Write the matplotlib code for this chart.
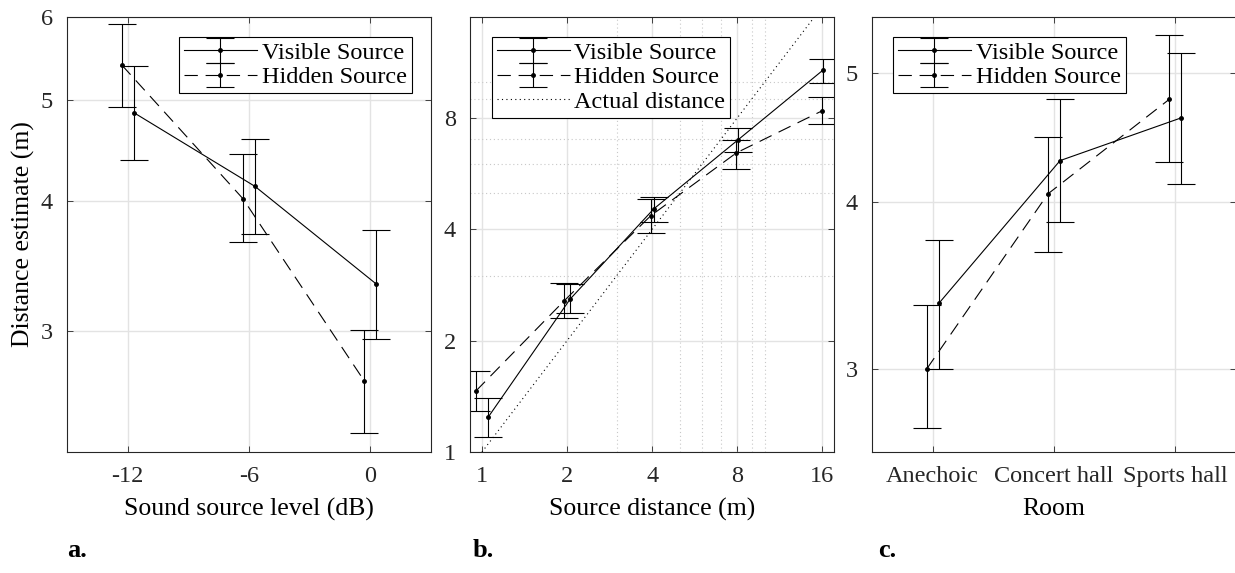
import matplotlib
matplotlib.use("Agg")
import matplotlib.pyplot as plt
from matplotlib.ticker import FixedLocator, NullLocator, FixedFormatter, NullFormatter
import numpy as np

plt.rcParams['font.family'] = ['Liberation Serif', 'DejaVu Serif']
plt.rcParams['font.size'] = 17.5

# panel a - sound source level
level_db = np.array([-12, -6, 0])
vis_a = [4.86, 4.13, 3.33]
vis_a_lo = [4.38, 3.72, 2.95]
vis_a_hi = [5.38, 4.59, 3.75]
hid_a = [5.40, 4.02, 2.69]
hid_a_lo = [4.92, 3.65, 2.40]
hid_a_hi = [5.91, 4.44, 3.01]

# panel b - source distance
dist_m = np.array([1, 2, 4, 8, 16])
vis_b = [1.24, 2.59, 4.54, 6.98, 10.76]
vis_b_lo = [1.10, 2.38, 4.19, 6.48, 9.96]
vis_b_hi = [1.40, 2.85, 4.90, 7.53, 11.56]
hid_b = [1.46, 2.56, 4.35, 6.44, 8.36]
hid_b_lo = [1.29, 2.30, 3.91, 5.83, 7.70]
hid_b_hi = [1.66, 2.86, 4.83, 6.98, 9.12]
actual = [1, 16]

# panel c - room
rooms = ['Anechoic', 'Concert hall', 'Sports hall']
vis_c = [3.36, 4.30, 4.63]
vis_c_lo = [3.00, 3.87, 4.13]
vis_c_hi = [3.75, 4.78, 5.18]
hid_c = [3.00, 4.06, 4.78]
hid_c_lo = [2.71, 3.67, 4.29]
hid_c_hi = [3.35, 4.48, 5.34]

W, H = 1235, 573
fig = plt.figure(figsize=(W / 100, H / 100), dpi=100)

def box(l, r, b=452, t=17):
    return [l / W, (H - b) / H, (r - l) / W, (b - t) / H]

axa = fig.add_axes(box(67, 431))
axb = fig.add_axes(box(470, 834))
axc = fig.add_axes(box(872, 1236))

ekw = dict(color='k', lw=0.8, capsize=10, capthick=0.8, marker='.', ms=5, elinewidth=0.8)

def err(y, lo, hi):
    y = np.array(y); return [y - np.array(lo), np.array(hi) - y]

def draw(ax, xv, xh, v, vlo, vhi, h, hlo, hhi):
    lv = ax.errorbar(xv, v, yerr=err(v, vlo, vhi), ls='-', label='Visible Source', **ekw)
    lh = ax.errorbar(xh, h, yerr=err(h, hlo, hhi), ls=(0, (12, 7)), label='Hidden Source', **ekw)
    return [lv, lh]

# a
ha = draw(axa, level_db + 0.3, level_db - 0.3, vis_a, vis_a_lo, vis_a_hi, hid_a, hid_a_lo, hid_a_hi)
axa.set_yscale('log')
axa.set_ylim(2.3, 6)
axa.set_xlim(-15, 3)
axa.yaxis.set_major_locator(FixedLocator([3, 4, 5, 6]))
axa.yaxis.set_major_formatter(FixedFormatter(['3', '4', '5', '6']))
axa.yaxis.set_minor_locator(NullLocator())
axa.set_xticks(level_db)
axa.set_xticklabels(['-12', '-6', '0'])
axa.set_xlabel('Sound source level (dB)', labelpad=8, fontsize=18.5)
axa.set_ylabel('Distance estimate (m)', labelpad=4, fontsize=18.5)

# b
hb = draw(axb, dist_m + 0.05, dist_m - 0.05, vis_b, vis_b_lo, vis_b_hi, hid_b, hid_b_lo, hid_b_hi)
la, = axb.plot(actual, actual, color='k', lw=0.8, ls=(0, (1, 3)), label='Actual distance')
hb.append(la)
axb.set_xscale('log', base=2)
axb.set_yscale('log', base=2)
axb.set_xlim(0.907, 17.6)
axb.set_ylim(1, 15)
for axis in (axb.xaxis, axb.yaxis):
    axis.set_major_locator(FixedLocator([1, 2, 4, 8, 16]))
    axis.set_major_formatter(FixedFormatter(['1', '2', '4', '8', '16']))
    axis.set_minor_locator(FixedLocator([3, 5, 6, 7, 9, 10]))
    axis.set_minor_formatter(NullFormatter())
axb.grid(True, which='minor', color='#c8c8c8', lw=0.8, ls=(0, (1, 2.5)))
axb.set_xlabel('Source distance (m)', labelpad=8, fontsize=18.5)

# c
xr = np.arange(1, len(rooms) + 1)
hc = draw(axc, xr + 0.05, xr - 0.05, vis_c, vis_c_lo, vis_c_hi, hid_c, hid_c_lo, hid_c_hi)
axc.set_yscale('log')
axc.set_ylim(2.6, 5.51)
axc.set_xlim(0.5, 3.5)
axc.yaxis.set_major_locator(FixedLocator([3, 4, 5]))
axc.yaxis.set_major_formatter(FixedFormatter(['3', '4', '5']))
axc.yaxis.set_minor_locator(NullLocator())
axc.set_xticks(xr)
axc.set_xticklabels(rooms)
axc.set_xlabel('Room', labelpad=8, fontsize=18.5)

for ax, hs, lx in ((axa, ha, 0.308), (axb, hb, 0.06), (axc, hc, 0.058)):
    ax.grid(True, which='major', color='#e3e3e3', lw=1.0)
    ax.set_axisbelow(True)
    ax.tick_params(which='both', direction='in', top=True, right=True, length=4, width=0.6, color='#262626')
    ax.tick_params(which='minor', length=0)
    ax.tick_params(axis='both', labelsize=17.5, colors='#262626', pad=10)
    for s in ax.spines.values():
        s.set_linewidth(0.8)
        s.set_color('#262626')
    leg = ax.legend(handles=hs, loc='upper left', bbox_to_anchor=(lx, 0.954),
                    fancybox=False, edgecolor='k', framealpha=1, borderpad=0.2,
                    handlelength=3.0, handletextpad=0.2, labelspacing=0.1, fontsize=17.5,
                    borderaxespad=0)
    leg.get_frame().set_linewidth(0.8)

fig.text(67 / W, 16 / H, 'a.', fontsize=19, weight='bold', va='baseline')
fig.text(473 / W, 16 / H, 'b.', fontsize=19, weight='bold', va='baseline')
fig.text(878 / W, 16 / H, 'c.', fontsize=19, weight='bold', va='baseline')

fig.savefig('out.png', dpi=100)
